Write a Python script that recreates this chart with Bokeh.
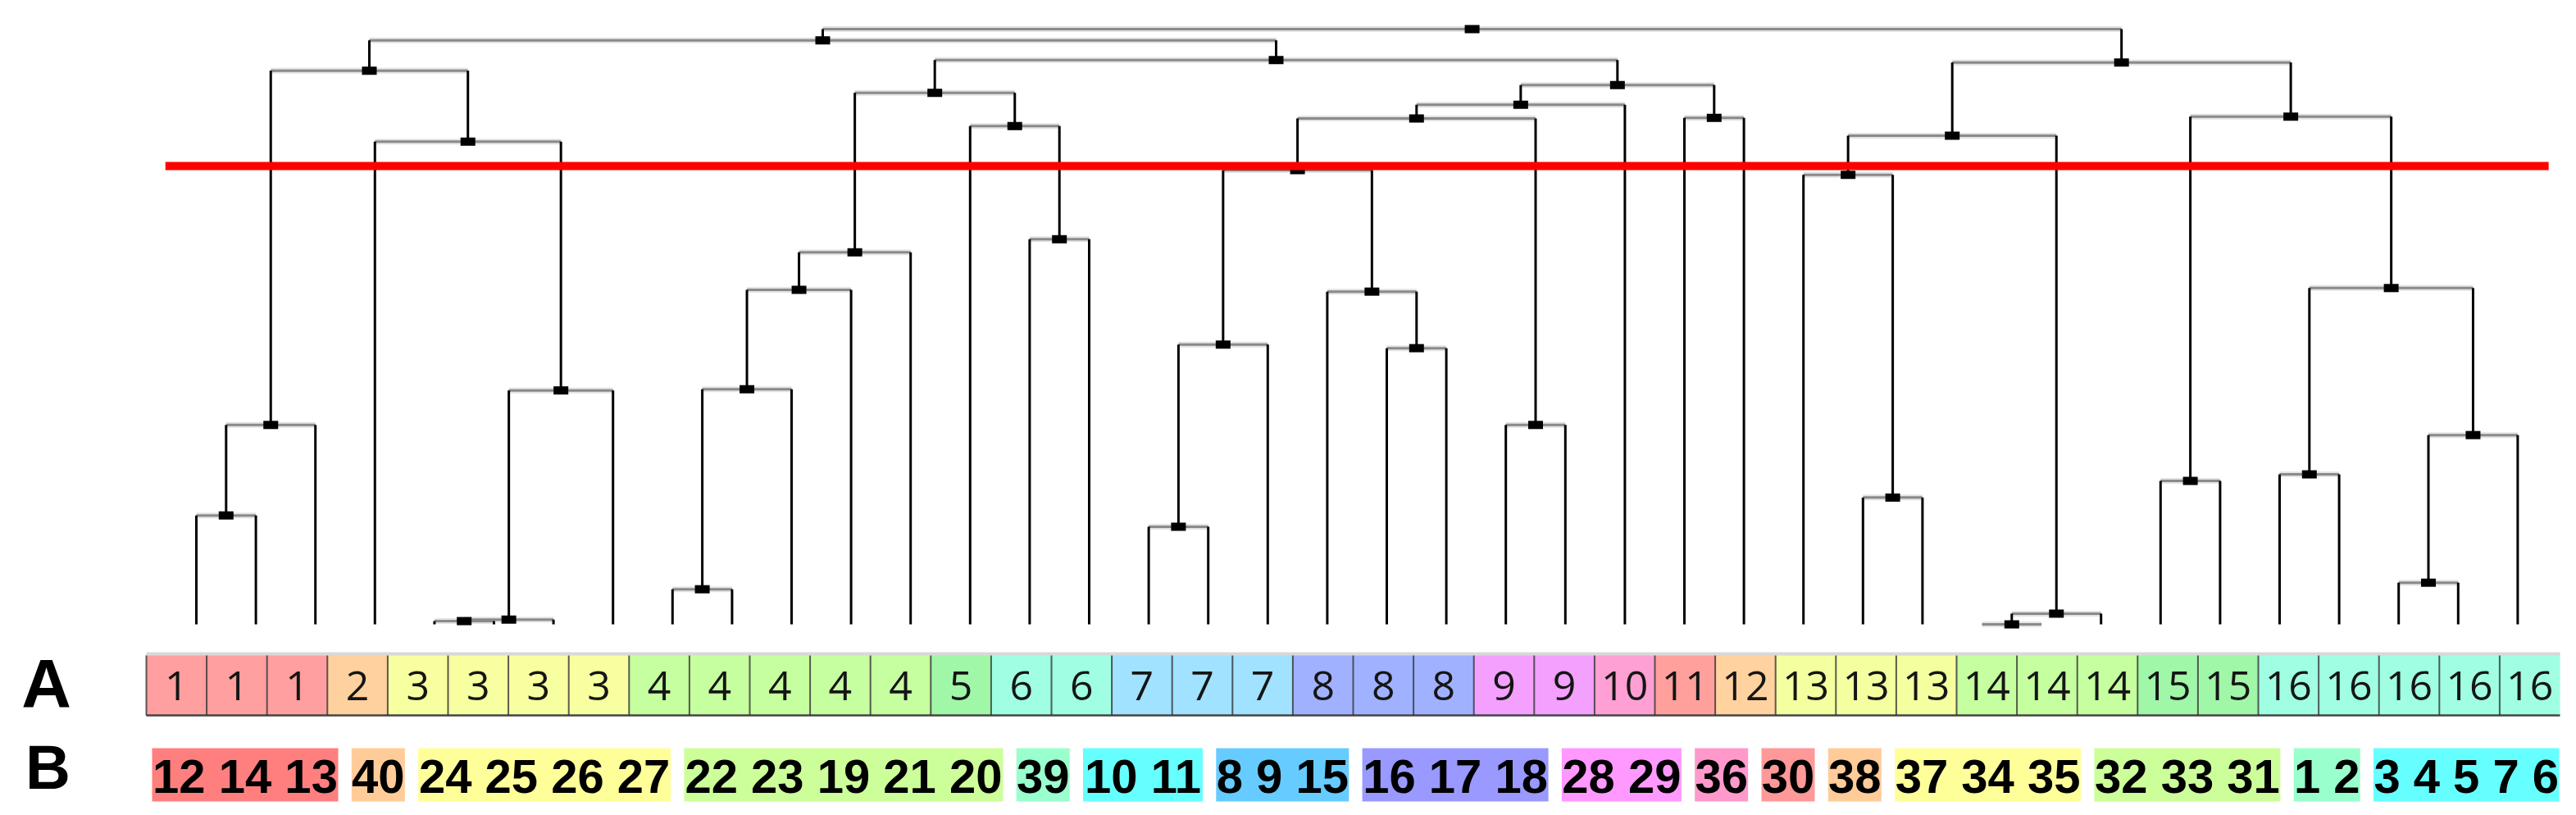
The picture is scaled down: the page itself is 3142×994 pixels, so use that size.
import numpy as np
from bokeh.plotting import figure
from bokeh.models import Range1d, ColumnDataSource
from bokeh.core.properties import value
from bokeh.embed import file_html
from bokeh.resources import INLINE

# ---------------- data ----------------
# cluster id (row A) of each of the 40 leaves, left to right
a_clusters = [1, 1, 1, 2, 3, 3, 3, 3, 4, 4, 4, 4, 4, 5, 6, 6, 7, 7, 7, 8,
              8, 8, 9, 9, 10, 11, 12, 13, 13, 13, 14, 14, 14, 15, 15, 16, 16, 16, 16, 16]

# linkage: node 40+k joins merge_left[k] and merge_right[k] at merge_height[k]
merge_left = [0, 40, 4, 42, 43, 3, 41, 8, 47, 48, 49, 14, 13, 50, 16, 54, 20, 19, 55, 22,
              58, 60, 25, 61, 53, 46, 28, 27, 30, 68, 67, 33, 35, 37, 73, 72, 71, 70, 65]
merge_right = [1, 2, 5, 6, 7, 44, 45, 9, 10, 11, 12, 15, 51, 52, 17, 18, 21, 56, 57, 23,
               59, 24, 26, 62, 63, 64, 29, 66, 31, 32, 69, 34, 36, 38, 39, 74, 75, 76, 77]
merge_height = [18.3, 33.5, 0.55, 0.8, 39.3, 81.1, 93.0, 5.9, 39.5, 56.2, 62.5, 64.7, 83.7, 89.3,
                16.4, 47.0, 46.4, 55.9, 76.3, 33.5, 85.0, 87.3, 85.1, 90.6, 94.8, 98.1,
                21.3, 75.5, 0.0, 1.8, 82.1, 24.1, 25.2, 7.0, 31.8, 56.5, 85.3, 94.4, 100.0]
cut_height = 77.0

# row B: members of each of the 16 groups
b_groups = ["12 14 13", "40", "24 25 26 27", "22 23 19 21 20", "39", "10 11", "8 9 15",
            "16 17 18", "28 29", "36", "30", "38", "37 34 35", "32 33 31", "1 2", "3 4 5 7 6"]

a_colors = ["#ff9f9f", "#ffd19f", "#f8ffa0", "#c6ff9f", "#a0f7a8", "#a0ffe2", "#a0e2ff", "#a0b2ff",
            "#f4a0ff", "#ffa0d4", "#ffa09c", "#ffd29f", "#f4ffa0", "#c6ff9f", "#a0f7a8", "#a0ffe2"]
b_colors = ["#ff7f7f", "#ffcc99", "#ffff99", "#ccff99", "#99ffcc", "#66ffff", "#66ccff", "#9999ff",
            "#ff99ff", "#ff99cc", "#ff9999", "#ffcc99", "#ffff99", "#ccff99", "#99ffcc", "#66ffff"]

# ---------------- layout (pixels of the picture) ----------------
LEAF0_PX, LEAF_STEP = 239.0, 72.6
BASE_PX, UNIT_PX = 761.0, 7.26
W, H = 3126, 978


def sx(px):
    return (px - LEAF0_PX) / LEAF_STEP


def sy(py):
    return (BASE_PX - py) / UNIT_PX


p = figure(width=W, height=H, x_range=Range1d(sx(0), sx(W)),
           y_range=Range1d(sy(H), sy(0)), output_backend="svg",
           toolbar_location=None, min_border=0)
p.axis.visible = False
p.grid.visible = False
p.outline_line_color = None
p.background_fill_color = "white"
p.border_fill_color = "white"

# ---------------- dendrogram geometry ----------------
n = len(a_clusters)
xs = list(range(n))
hs = [0.0] * n
for a, b, h in zip(merge_left, merge_right, merge_height):
    xs.append((xs[a] + xs[b]) / 2.0)
    hs.append(h)

vx, vy0, vy1 = [], [], []
hx0, hx1, hy = [], [], []
for k, (a, b, h) in enumerate(zip(merge_left, merge_right, merge_height)):
    for c in (a, b):
        vx.append(xs[c]); vy0.append(hs[c]); vy1.append(h)
    hx0.append(xs[a]); hx1.append(xs[b]); hy.append(h)

hsrc = ColumnDataSource(dict(x0=hx0, x1=hx1, y=hy))
p.segment(x0="x0", y0="y", x1="x1", y1="y", source=hsrc, line_color="#d0d0d0",
          line_width=7, line_alpha=0.6)
p.segment(x0="x0", y0="y", x1="x1", y1="y", source=hsrc, line_color="#8a8a8a", line_width=3)
p.segment(x0=vx, y0=vy0, x1=vx, y1=vy1, line_color="black", line_width=3)
p.rect(x=xs[n:], y=hs[n:], width=18, height=10, width_units="screen", height_units="screen",
       fill_color="black", line_color=None)

# cut line
p.segment(x0=[-0.52], y0=[cut_height], x1=[n - 1 + 0.52], y1=[cut_height],
          line_color="#ff0000", line_width=10)

# ---------------- row A ----------------
cell_w = 73.6 / LEAF_STEP
a_x0 = sx(178)
lefts = [a_x0 + i * cell_w for i in range(n)]
rights = [l + cell_w for l in lefts]
p.quad(left=lefts, right=rights, bottom=sy(872), top=sy(798),
       fill_color=[a_colors[c - 1] for c in a_clusters], line_color=None)
p.segment(x0=[lefts[0]], y0=[sy(797)], x1=[rights[-1]], y1=[sy(797)], line_color="#d8d8d8", line_width=4)
p.segment(x0=[lefts[0]], y0=[sy(872)], x1=[rights[-1]], y1=[sy(872)], line_color="#444444", line_width=2.5)
p.segment(x0=lefts, y0=sy(872), x1=lefts, y1=sy(799), line_color="#333333", line_width=2, line_alpha=0.8)
p.text(x=[l + cell_w / 2 for l in lefts], y=sy(836), text=[str(c) for c in a_clusters],
       text_font=value("Open Sans"), text_font_size="50px", text_color="#151515",
       text_align="center", text_baseline="middle")

# ---------------- row B ----------------
DIGIT_PX, SPACE_PX, GAP_PX = 32.5, 16.0, 16.3
bl, br = [], []
cur = 185.0
for s in b_groups:
    w = sum(SPACE_PX if ch == " " else DIGIT_PX for ch in s)
    bl.append(sx(cur)); br.append(sx(cur + w))
    cur += w + GAP_PX
p.quad(left=bl, right=br, bottom=sy(977), top=sy(912), fill_color=b_colors, line_color=None)
p.text(x=[(l + r) / 2 for l, r in zip(bl, br)], y=sy(946), text=b_groups,
       text_font=value("Liberation Sans"), text_font_style="bold", text_font_size="58px",
       text_color="black", text_align="center", text_baseline="middle")

# row letters
p.text(x=[sx(56)], y=[sy(833)], text=["A"],
       text_font=value("Liberation Sans"), text_font_style="bold", text_font_size="84px",
       text_color="black", text_align="center", text_baseline="middle")
p.text(x=[sx(58)], y=[sy(935)], text=["B"],
       text_font=value("Liberation Sans"), text_font_style="bold", text_font_size="76px",
       text_color="black", text_align="center", text_baseline="middle")

open("out.html", "w").write(file_html(p, INLINE))
